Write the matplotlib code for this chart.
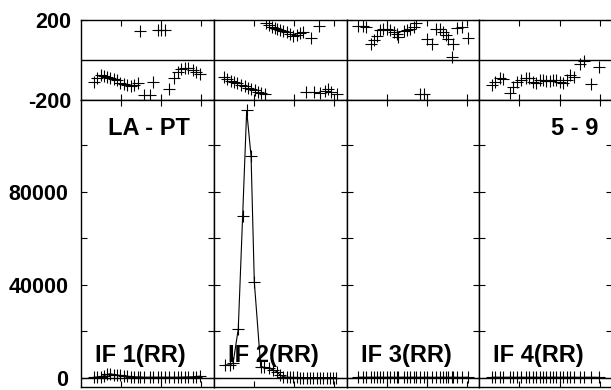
import matplotlib
matplotlib.use("Agg")
import matplotlib.pyplot as plt

plt.rcParams['font.family'] = ['Liberation Sans', 'DejaVu Sans']
plt.rcParams['font.weight'] = 'bold'

# time axis in arbitrary units (ticks at 1, 2, 3)
t1 = [0.32, 0.40, 0.50, 0.57, 0.65, 0.73, 0.82, 0.90, 0.98, 1.07, 1.15, 1.25, 1.33, 1.42, 1.48,
      1.58, 1.71, 1.79, 1.93, 2.00, 2.10, 2.19, 2.32, 2.42, 2.50, 2.60, 2.68, 2.79, 2.88, 2.98]
phase1 = [-110, -94, -77, -82, -87, -90, -97, -104, -115, -124, -127, -131, -127, -119, 144,
          -177, -177, -114, 152, 152, 150, -147, -94, -64, -47, -40, -43, -52, -64, -73]
amp1 = [300, 400, 600, 900, 1500, 1800, 1400, 1200, 1100, 900, 700, 600, 500, 400, 400,
        300, 300, 300, 300, 300, 300, 300, 300, 300, 300, 400, 400, 500, 600, 800]

t2_phase = [0.25, 0.33, 0.42, 0.50, 0.58, 0.68, 0.77, 0.85, 0.93, 1.02, 1.10, 1.18, 1.27,
            1.29, 1.38, 1.46, 1.53, 1.58, 1.65, 1.73, 1.82, 1.90, 1.98, 2.07, 2.15, 2.23,
            2.29, 2.43, 2.50, 2.62, 2.66, 2.77, 2.85, 2.93, 3.07]
phase2 = [-85, -97, -107, -114, -119, -127, -132, -141, -147, -154, -161, -169, -174,
          186, 174, 166, 161, 154, 149, 144, 138, 128, 121, 124, 133, 138,
          -164, 107, -161, 171, -169, -157, -147, -161, -174]
t2_amp = [0.29, 0.40, 0.48, 0.61, 0.72, 0.82, 0.93, 1.01, 1.17, 1.25, 1.38, 1.48, 1.57, 1.65,
          1.73, 1.82, 1.90, 1.98, 2.07, 2.15, 2.23, 2.32, 2.40, 2.48, 2.57, 2.65, 2.73, 2.82,
          2.90, 2.98, 3.04]
amp2 = [5600, 5600, 6300, 21000, 69800, 115000, 95200, 41400, 4900, 4600, 4200, 3400, 2700,
        1300, 560, 300, 250, 200, 200, 150, 150, 150, 150, 150, 150, 150, 150, 150, 150, 150, 150]

t3 = [0.29, 0.40, 0.48, 0.60, 0.68, 0.77, 0.83, 0.92, 1.00, 1.08, 1.17, 1.25, 1.29, 1.42, 1.50,
      1.58, 1.67, 1.73, 1.82, 1.92, 2.00, 2.13, 2.23, 2.32, 2.40, 2.47, 2.54, 2.63, 2.65, 2.75,
      2.88, 3.02]
phase3 = [171, 171, 166, 77, 99, 121, 149, 154, 154, 149, 138, 128, 116, 144, 149,
          154, 166, 183, -174, -174, 104, 77, 154, 154, 138, 124, 104, 15, 77, 161,
          166, 107]
amp3 = [300, 300, 250, 300, 250, 250, 300, 250, 250, 300, 250, 250, 250, 300, 250,
        250, 300, 250, 250, 250, 300, 250, 250, 250, 300, 250, 250, 250, 300, 250,
        250, 300]

t4 = [0.32, 0.40, 0.52, 0.60, 0.77, 0.85, 0.93, 1.04, 1.15, 1.23, 1.33, 1.42, 1.50, 1.58,
      1.67, 1.75, 1.83, 1.92, 2.00, 2.08, 2.18, 2.27, 2.35, 2.50, 2.60, 2.79, 2.98]
phase4 = [-127, -110, -90, -97, -169, -136, -110, -102, -90, -94, -110, -119, -102, -102,
          -107, -107, -102, -102, -110, -119, -102, -77, -85, -23, -5, -124, -35]
amp4 = [300, 300, 250, 250, 300, 250, 250, 300, 250, 250, 300, 250, 250, 300,
        250, 250, 300, 250, 250, 300, 250, 250, 300, 250, 250, 300, 250]

if_labels = ['IF 1(RR)', 'IF 2(RR)', 'IF 3(RR)', 'IF 4(RR)']
baseline = 'LA - PT'
source = '5 - 9'

phase_ticks = [-200, 200]
amp_ticks = [0, 20000, 40000, 60000, 80000, 100000]
amp_ticklabels = ['0', '', '40000', '', '80000', '']

series = [(t1, phase1, t1, amp1), (t2_phase, phase2, t2_amp, amp2),
          (t3, phase3, t3, amp3), (t4, phase4, t4, amp4)]

W, H = 611, 390
fig = plt.figure(figsize=(W / 100, H / 100), dpi=100)

left0 = 81
pw = 132.8
ph_top, ph_bot = 20, 99.5
amp_bot = 387
fs = 17
tick_fs = 15.5

for i, (tp, ph, ta, am) in enumerate(series):
    x0 = (left0 + i * pw) / W
    axp = fig.add_axes([x0, (H - ph_bot) / H, pw / W, (ph_bot - ph_top) / H])
    axa = fig.add_axes([x0, (H - amp_bot) / H, pw / W, (amp_bot - ph_bot) / H])

    # phase panel
    axp.plot(tp, ph, linestyle='none', marker='+', color='black', ms=8, mew=0.8)
    axp.axhline(0, color='black', lw=1.0)
    axp.set_ylim(-200, 200)
    axp.set_yticks(phase_ticks)

    # amplitude panel
    axa.plot(ta, am, color='black', lw=0.8, marker='+', ms=8, mew=0.8)
    axa.axhline(0, color='black', lw=1.0)
    axa.set_ylim(-3900, 119700)
    axa.set_yticks(amp_ticks)

    for ax in (axp, axa):
        ax.set_xlim(0, 132.5 / 40)
        ax.set_xticks([1, 2, 3])
        ax.tick_params(direction='in', length=4.5, width=0.8, top=True, right=True,
                       labelbottom=False, labelleft=False, labelsize=tick_fs)
        for s in ax.spines.values():
            s.set_linewidth(1.0)

    if i == 0:
        axp.tick_params(labelleft=True, pad=7)
        axp.set_yticklabels(['-200', '200'], fontweight='bold')
        axa.tick_params(labelleft=True, pad=9)
        axa.set_yticklabels(amp_ticklabels, fontweight='bold')
        axa.text(0.51, 0.90, baseline, transform=axa.transAxes, ha='center', va='center',
                 fontsize=fs, fontweight='bold')
    if i == 3:
        axa.text(0.895, 0.90, source, transform=axa.transAxes, ha='right', va='center',
                 fontsize=fs, fontweight='bold')
    axa.text(0.106, 0.111, if_labels[i], transform=axa.transAxes, ha='left', va='center',
             fontsize=fs, fontweight='bold')

fig.savefig('out.png', dpi=100)
